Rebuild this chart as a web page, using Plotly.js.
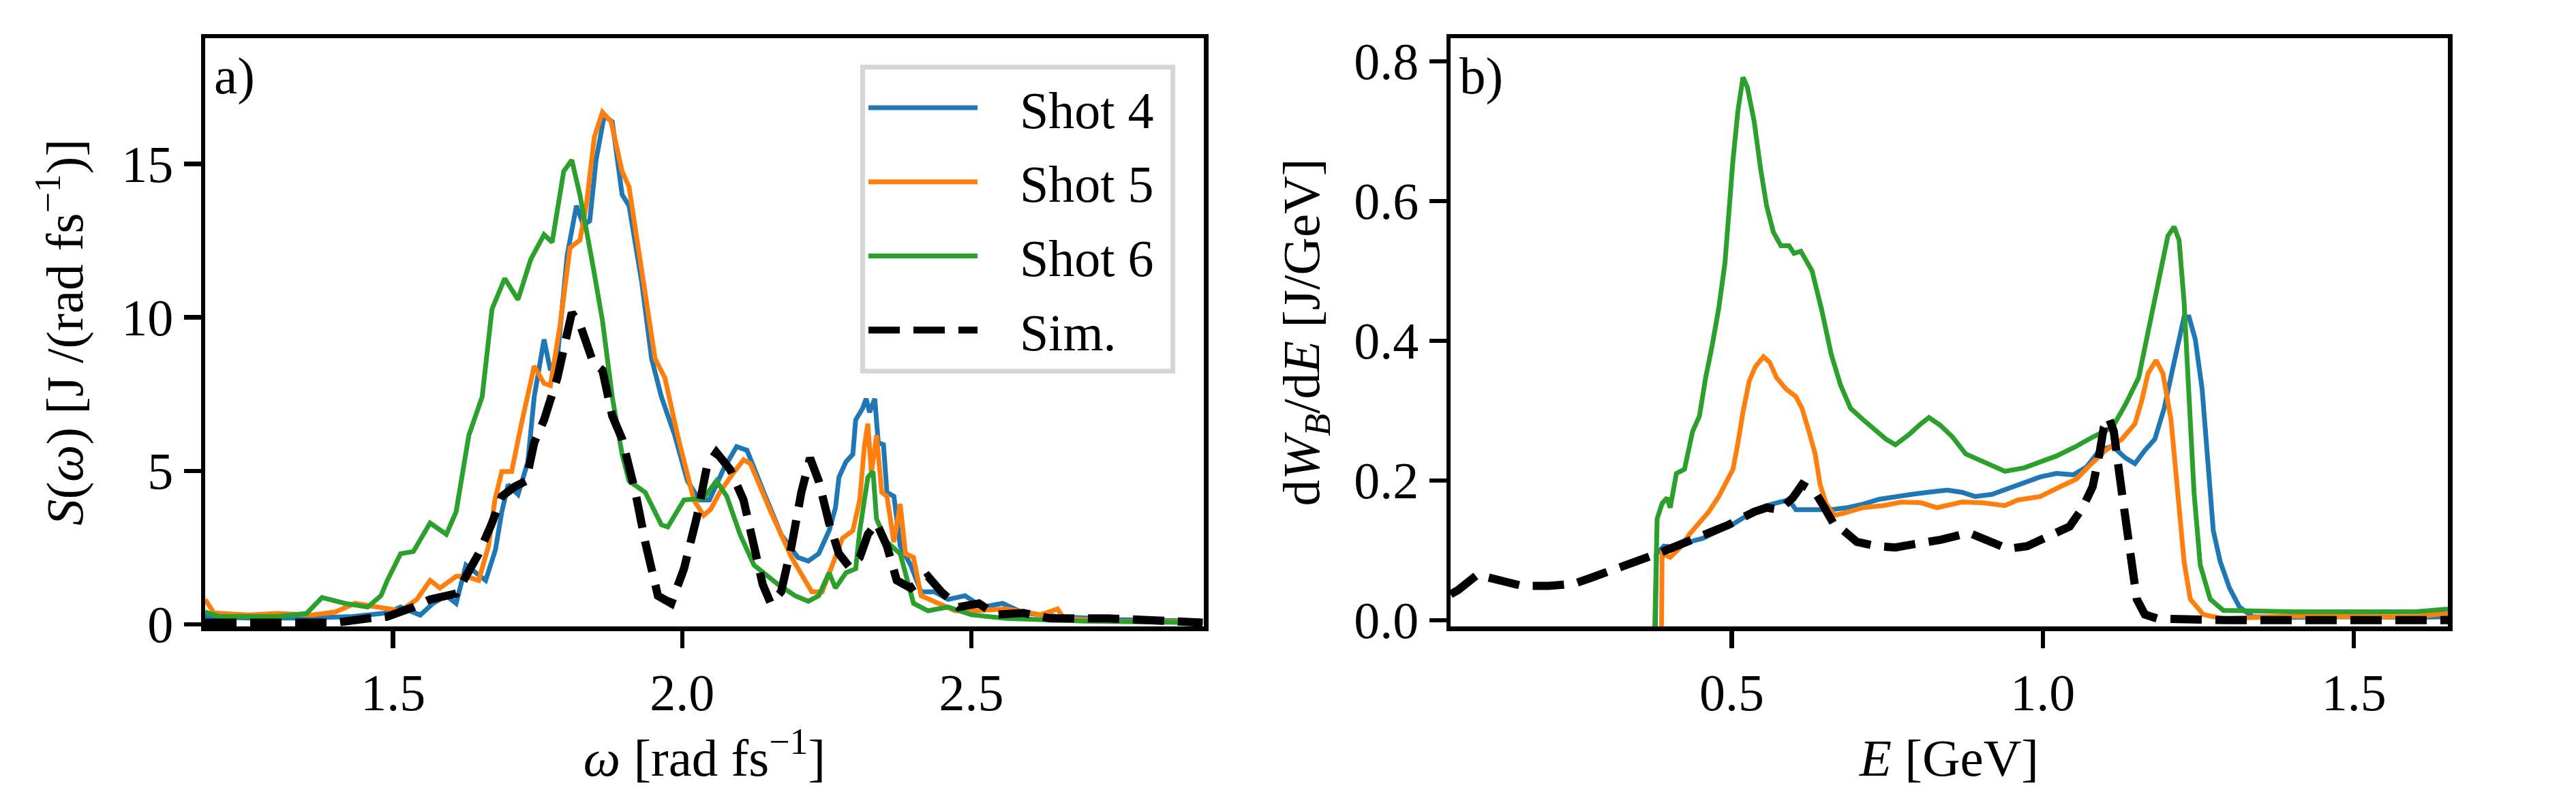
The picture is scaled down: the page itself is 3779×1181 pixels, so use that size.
<!DOCTYPE html>
<html>
<head>
<meta charset="utf-8">
<script src="https://cdn.plot.ly/plotly-3.0.1.min.js"></script>
<style>html,body{margin:0;padding:0;background:#fff;}#chart{width:3779px;height:1181px;}</style>
</head>
<body>
<div id="chart"></div>
<script>
// ---------- Panel a) spectra S(omega) ----------
const omega4 = [1.175,1.25,1.35,1.43,1.49,1.513,1.547,1.569,1.592,1.609,1.626,1.643,1.66,1.677,1.688,1.699,1.716,1.733,1.744,1.761,1.772,1.784,1.801,1.817,1.829,1.84,1.851,1.865,1.879,1.896,1.908,1.93,1.947,1.964,1.987,2.009,2.03,2.047,2.071,2.094,2.112,2.141,2.171,2.2,2.218,2.236,2.254,2.265,2.271,2.283,2.295,2.3,2.312,2.318,2.324,2.333,2.339,2.348,2.354,2.366,2.377,2.395,2.413,2.436,2.46,2.489,2.519,2.554,2.59,2.649,2.75,2.9];
const S4 = [0.25,0.2,0.2,0.25,0.37,0.56,0.3,0.68,0.93,0.68,1.93,1.68,1.43,2.43,3.67,4.55,4.23,5.29,7.41,9.28,8.28,8.66,12.02,13.64,13.01,13.14,15.13,16.56,16.38,14.0,13.64,11.14,8.66,7.41,6.16,4.67,4.05,4.05,5.04,5.79,5.67,4.3,2.93,2.18,2.06,2.3,3.05,3.8,4.79,5.29,5.54,6.66,7.04,7.35,6.91,7.35,5.92,5.85,4.3,4.17,2.55,1.93,1.06,1.06,0.81,0.93,0.56,0.68,0.37,0.25,0.15,0.1];

const omega5 = [1.175,1.19,1.25,1.3,1.36,1.4,1.434,1.468,1.513,1.541,1.564,1.581,1.609,1.626,1.648,1.665,1.676,1.688,1.705,1.722,1.744,1.761,1.772,1.789,1.806,1.823,1.834,1.848,1.862,1.877,1.896,1.908,1.93,1.953,1.97,1.992,2.02,2.037,2.049,2.065,2.088,2.106,2.118,2.153,2.189,2.224,2.242,2.259,2.277,2.295,2.307,2.315,2.321,2.327,2.336,2.345,2.354,2.366,2.377,2.386,2.4,2.413,2.442,2.472,2.507,2.56,2.62,2.649,2.66,2.75,2.9];
const S5 = [0.81,0.37,0.3,0.35,0.3,0.4,0.68,0.56,0.44,0.81,1.43,1.18,1.56,1.56,1.43,2.55,4.05,4.98,4.98,6.54,8.41,7.85,7.78,9.78,12.27,12.52,13.64,15.88,16.69,16.38,14.76,14.26,11.52,8.66,8.03,6.16,4.05,3.55,3.74,4.3,4.92,5.36,5.23,3.67,2.18,1.06,1.06,1.93,2.8,3.05,4.05,5.79,6.54,4.92,6.16,4.3,4.17,2.68,3.92,2.3,2.18,0.93,0.68,0.44,0.44,0.5,0.31,0.5,0.19,0.1,0.08];

const omega6 = [1.175,1.2,1.25,1.3,1.35,1.377,1.417,1.456,1.479,1.49,1.513,1.535,1.564,1.592,1.609,1.631,1.654,1.671,1.693,1.716,1.738,1.761,1.775,1.795,1.809,1.823,1.846,1.862,1.879,1.896,1.908,1.936,1.964,1.975,2.003,2.037,2.059,2.077,2.1,2.124,2.165,2.195,2.218,2.236,2.254,2.265,2.283,2.3,2.307,2.321,2.33,2.336,2.354,2.377,2.4,2.425,2.46,2.5,2.56,2.7,2.9];
const S6 = [0.4,0.25,0.25,0.25,0.35,0.87,0.68,0.56,0.93,1.43,2.3,2.37,3.3,2.93,3.67,6.16,7.41,10.27,11.27,10.58,11.89,12.7,12.45,14.76,15.13,14.0,11.64,9.9,7.41,5.54,4.67,4.3,3.24,3.17,4.05,4.11,4.67,4.17,2.93,1.93,1.31,0.93,0.75,0.93,1.68,1.18,1.68,1.81,3.05,4.79,4.98,3.43,2.68,2.3,0.68,0.44,0.56,0.31,0.19,0.1,0.05];

const omegaSim = [1.175,1.3,1.4,1.456,1.49,1.535,1.564,1.609,1.626,1.648,1.671,1.688,1.71,1.73,1.744,1.761,1.784,1.795,1.809,1.823,1.846,1.862,1.879,1.896,1.919,1.936,1.958,1.981,2.003,2.026,2.043,2.059,2.083,2.106,2.124,2.139,2.153,2.171,2.189,2.206,2.221,2.236,2.254,2.271,2.289,2.307,2.321,2.336,2.354,2.371,2.395,2.425,2.448,2.478,2.513,2.542,2.59,2.637,2.678,2.737,2.825,2.9];
const SSim = [0.05,0.05,0.05,0.19,0.25,0.56,0.81,1.0,1.56,2.3,3.3,4.17,4.48,4.67,5.92,6.66,8.03,9.03,10.15,9.78,8.53,8.28,6.79,6.04,4.3,2.68,0.93,0.68,1.81,3.55,5.17,5.6,5.04,4.05,2.43,1.31,0.68,1.06,2.55,4.3,5.42,4.67,3.3,2.3,1.87,2.18,2.93,3.3,2.55,1.43,1.18,1.56,1.06,0.56,0.68,0.31,0.37,0.19,0.19,0.19,0.12,0.05];

// ---------- Panel b) electron spectra dW_B/dE ----------
const E4 = [0.377,0.379,0.391,0.411,0.432,0.453,0.479,0.505,0.53,0.556,0.577,0.592,0.603,0.634,0.66,0.686,0.711,0.737,0.763,0.789,0.815,0.846,0.87,0.891,0.918,0.944,0.97,0.996,1.022,1.049,1.07,1.091,1.112,1.133,1.148,1.164,1.18,1.195,1.211,1.227,1.235,1.245,1.256,1.264,1.274,1.285,1.3,1.316,1.337,1.4,1.5,1.6,1.651];
const W4 = [-0.02,0.095,0.106,0.104,0.112,0.117,0.128,0.139,0.153,0.164,0.169,0.172,0.158,0.158,0.158,0.161,0.166,0.173,0.177,0.18,0.183,0.186,0.183,0.177,0.18,0.188,0.197,0.205,0.21,0.208,0.219,0.243,0.249,0.232,0.224,0.243,0.259,0.303,0.369,0.434,0.434,0.402,0.331,0.238,0.128,0.084,0.046,0.019,0.005,0.004,0.005,0.004,0.005];

const E5 = [0.387,0.388,0.401,0.417,0.432,0.448,0.463,0.479,0.492,0.502,0.51,0.518,0.528,0.538,0.551,0.561,0.572,0.587,0.603,0.613,0.624,0.634,0.642,0.652,0.665,0.68,0.711,0.743,0.773,0.804,0.83,0.87,0.902,0.939,0.96,0.996,1.028,1.054,1.075,1.101,1.127,1.148,1.159,1.169,1.182,1.193,1.206,1.216,1.227,1.237,1.258,1.29,1.4,1.5,1.6,1.651];
const W5 = [-0.02,0.095,0.09,0.104,0.123,0.139,0.155,0.177,0.199,0.216,0.254,0.298,0.342,0.363,0.377,0.369,0.347,0.331,0.32,0.303,0.27,0.238,0.194,0.166,0.15,0.153,0.161,0.164,0.169,0.168,0.161,0.169,0.168,0.164,0.172,0.177,0.191,0.202,0.221,0.243,0.259,0.281,0.314,0.353,0.372,0.353,0.287,0.183,0.084,0.03,0.008,0.002,0.006,0.005,0.005,0.01];

const E6 = [0.376,0.38,0.388,0.396,0.401,0.411,0.424,0.437,0.448,0.458,0.468,0.479,0.489,0.494,0.502,0.51,0.518,0.525,0.536,0.546,0.556,0.567,0.579,0.592,0.6,0.611,0.629,0.644,0.66,0.675,0.691,0.711,0.732,0.748,0.763,0.784,0.804,0.817,0.835,0.855,0.876,0.902,0.939,0.97,0.996,1.022,1.054,1.08,1.112,1.133,1.154,1.169,1.185,1.201,1.211,1.219,1.227,1.235,1.243,1.253,1.269,1.29,1.4,1.5,1.6,1.651];
const W6 = [-0.02,0.145,0.167,0.175,0.161,0.21,0.216,0.27,0.292,0.347,0.391,0.446,0.511,0.577,0.659,0.73,0.777,0.763,0.714,0.648,0.593,0.555,0.536,0.536,0.525,0.528,0.5,0.446,0.38,0.336,0.303,0.287,0.27,0.259,0.251,0.265,0.281,0.29,0.279,0.262,0.238,0.227,0.213,0.218,0.227,0.235,0.249,0.262,0.276,0.309,0.347,0.413,0.484,0.55,0.563,0.544,0.456,0.32,0.183,0.079,0.03,0.014,0.012,0.012,0.012,0.016];

const ESim = [0.048,0.06,0.091,0.101,0.127,0.163,0.205,0.246,0.272,0.308,0.349,0.38,0.411,0.453,0.494,0.536,0.556,0.577,0.598,0.613,0.634,0.649,0.665,0.68,0.701,0.732,0.763,0.794,0.836,0.881,0.907,0.944,0.975,1.017,1.043,1.064,1.08,1.091,1.098,1.106,1.114,1.127,1.135,1.143,1.151,1.164,1.185,1.3,1.5,1.651];
const WSim = [0.037,0.043,0.065,0.063,0.057,0.049,0.049,0.052,0.06,0.071,0.084,0.095,0.106,0.12,0.136,0.155,0.161,0.158,0.175,0.194,0.183,0.161,0.136,0.128,0.112,0.106,0.104,0.109,0.115,0.125,0.115,0.102,0.106,0.123,0.134,0.161,0.191,0.238,0.276,0.29,0.27,0.183,0.128,0.063,0.03,0.008,0.002,0.0,0.0,0.0];

const seriesNames = ['Shot 4','Shot 5','Shot 6','Sim.'];
const seriesColors = ['#1f77b4','#ff7f0e','#2ca02c','#000000'];

const FONT = 'Liberation Serif';
const FS_TICK = 76, FS_LABEL = 77, FS_LEG = 76;
const solidW = 7, dashW = 12;
const dashPat = '46px,20px';
const PAD = '\u00a0\u00a0\u00a0';

function tr(x, y, i, xa, ya, showLegend) {
  return {
    x: x, y: y, type: 'scatter', mode: 'lines', name: PAD + seriesNames[i] + '\u00a0',
    xaxis: xa, yaxis: ya, showlegend: showLegend, legendgroup: seriesNames[i],
    line: { color: seriesColors[i], width: i === 3 ? dashW : solidW, dash: i === 3 ? dashPat : 'solid' },
    hoverinfo: 'skip'
  };
}

const data = [
  tr(omega4, S4, 0, 'x', 'y', true),
  tr(omega5, S5, 1, 'x', 'y', true),
  tr(omega6, S6, 2, 'x', 'y', true),
  tr(omegaSim, SSim, 3, 'x', 'y', true),
  tr(E4, W4, 0, 'x2', 'y2', false),
  tr(E5, W5, 1, 'x2', 'y2', false),
  tr(E6, W6, 2, 'x2', 'y2', false),
  tr(ESim, WSim, 3, 'x2', 'y2', false)
];

const axisCommon = {
  showline: true, linecolor: '#000', linewidth: 6.5, mirror: true,
  ticks: 'outside', ticklen: 25, tickwidth: 6.5, tickcolor: '#000',
  showgrid: false, zeroline: false, automargin: false,
  tickfont: { family: FONT, size: FS_TICK, color: '#000' }
};
const titleFont = { family: FONT, size: FS_LABEL, color: '#000' };

const W = 3779, H = 1181;
const yTop = (H - 56) / H, yBot = (H - 919) / H;

const layout = {
  width: W, height: H,
  margin: { l: 0, r: 0, t: 0, b: 0 },
  paper_bgcolor: '#fff', plot_bgcolor: '#fff',
  font: { family: FONT, size: FS_LABEL, color: '#000' },
  xaxis: Object.assign({}, axisCommon, {
    domain: [301 / W, 1766 / W], range: [1.175, 2.902], anchor: 'y',
    tickvals: [1.5, 2.0, 2.5], ticktext: ['1.5', '2.0', '2.5'],
    title: { text: '<i>ω</i> [rad fs<sup>−1</sup>]', font: titleFont, standoff: 30 }
  }),
  yaxis: Object.assign({}, axisCommon, {
    domain: [yBot, yTop], range: [-0.07, 19.1], anchor: 'x',
    tickvals: [0, 5, 10, 15], ticktext: ['0', '5', '10', '15'],
    title: { text: '<i>S</i>(<i>ω</i>) [J /(rad fs<sup>−1</sup>)]', font: titleFont, standoff: 34 }
  }),
  xaxis2: Object.assign({}, axisCommon, {
    domain: [2128 / W, 3591 / W], range: [0.048, 1.651], anchor: 'y2',
    tickvals: [0.5, 1.0, 1.5], ticktext: ['0.5', '1.0', '1.5'],
    title: { text: '<i>E</i> [GeV]', font: titleFont, standoff: 30 }
  }),
  yaxis2: Object.assign({}, axisCommon, {
    domain: [yBot, yTop], range: [-0.009, 0.833], anchor: 'x2',
    tickvals: [0, 0.2, 0.4, 0.6, 0.8], ticktext: ['0.0', '0.2', '0.4', '0.6', '0.8'],
    title: { text: 'd<i>W</i><sub><i>B</i></sub>/d<i>E</i> [J/GeV]', font: titleFont, standoff: 28 }
  }),
  legend: {
    x: 1262 / W, y: (H - 95) / H, xanchor: 'left', yanchor: 'top',
    bgcolor: '#fff', bordercolor: '#d6d6d6', borderwidth: 7,
    font: { family: FONT, size: FS_LEG, color: '#000' },
    itemwidth: 160, tracegroupgap: 7
  },
  annotations: [
    { text: 'a)', xref: 'paper', yref: 'paper', x: 312 / W, y: (H - 66) / H, xanchor: 'left', yanchor: 'top', showarrow: false, font: titleFont },
    { text: 'b)', xref: 'paper', yref: 'paper', x: 2139 / W, y: (H - 66) / H, xanchor: 'left', yanchor: 'top', showarrow: false, font: titleFont }
  ]
};

Plotly.newPlot('chart', data, layout, { staticPlot: true, displayModeBar: false });
</script>
</body>
</html>
